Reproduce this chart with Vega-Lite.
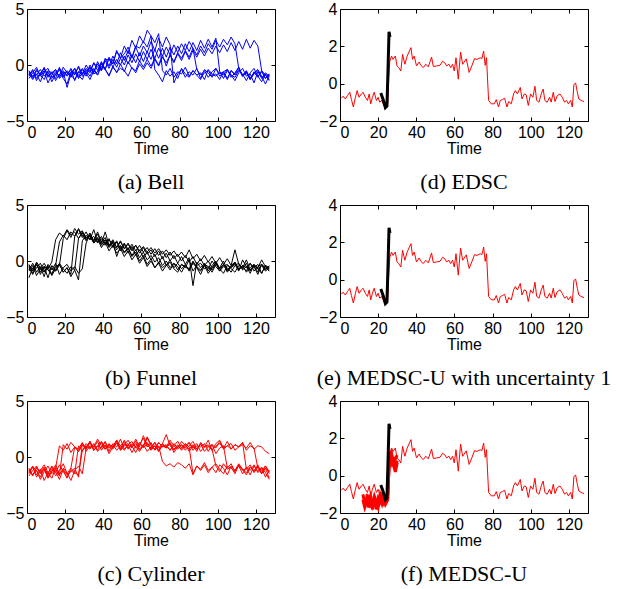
{
"$schema":"https://vega.github.io/schema/vega-lite/v6.json",
"padding":{"left":5,"top":0,"right":0,"bottom":0},
"background":"white",
"config":{
 "view":{"stroke":"black","strokeWidth":1},
 "axis":{"domain":false,"grid":false,"tickColor":"black","tickSize":-4,"labelPadding":7,"labelFont":"Liberation Sans","labelFontSize":16,"labelColor":"black","titleFont":"Liberation Sans","titleFontSize":16,"titleFontWeight":"normal","titleColor":"black","titlePadding":0},
 "title":{"font":"Liberation Serif","fontSize":22,"fontWeight":"normal","color":"black","orient":"bottom","frame":"group","offset":16}
},
"datasets":{
"bell":[
{"t":1,"a":-0.6,"b":-0.9,"c":-0.5,"d":-1.2,"e":-0.8,"f":-1.0,"g":-0.7},
{"t":3,"a":-1.1,"b":-0.4,"c":-1.0,"d":-0.7,"e":-1.3,"f":-0.5,"g":-1.2},
{"t":5,"a":-0.4,"b":-1.2,"c":-0.8,"d":-0.2,"e":-0.5,"f":-1.4,"g":-0.9},
{"t":7,"a":-0.9,"b":-0.7,"c":-1.5,"d":-1.0,"e":-0.9,"f":-0.8,"g":-0.4},
{"t":9,"a":-1.3,"b":-0.3,"c":-0.6,"d":-0.5,"e":-0.2,"f":-0.3,"g":-1.0},
{"t":11,"a":-0.5,"b":-1.0,"c":-0.3,"d":-1.6,"e":-1.1,"f":-0.9,"g":-0.6},
{"t":13,"a":-0.7,"b":-0.6,"c":-1.1,"d":-0.9,"e":-0.7,"f":-1.2,"g":-1.5},
{"t":15,"a":-1.2,"b":-1.4,"c":-0.9,"d":-0.4,"e":-0.4,"f":-0.6,"g":-0.8},
{"t":17,"a":-0.2,"b":-0.8,"c":-0.4,"d":-1.1,"e":-1.2,"f":-1.0,"g":-0.3},
{"t":19,"a":-1.0,"b":-0.5,"c":-1.2,"d":-0.6,"e":-0.8,"f":-0.2,"g":-1.1},
{"t":21,"a":-0.8,"b":-1.0,"c":-1.7,"d":-2.0,"e":-0.6,"f":-0.7,"g":-0.5},
{"t":23,"a":-0.4,"b":-0.3,"c":-0.6,"d":-0.8,"e":-1.0,"f":-1.1,"g":-0.9},
{"t":25,"a":-1.4,"b":-0.9,"c":-0.8,"d":-0.3,"e":-0.3,"f":-0.6,"g":-1.3},
{"t":27,"a":-0.6,"b":-0.1,"c":-0.2,"d":-1.2,"e":-0.9,"f":-1.1,"g":-0.6},
{"t":29,"a":-0.9,"b":-0.8,"c":-1.0,"d":-0.7,"e":-1.3,"f":-0.3,"g":-0.4},
{"t":31,"a":-0.3,"b":0.0,"c":-0.7,"d":-0.5,"e":-0.5,"f":-0.8,"g":-1.0},
{"t":33,"a":-0.7,"b":-0.6,"c":-1.3,"d":-1.0,"e":-0.2,"f":0.0,"g":-0.2},
{"t":35,"a":0.2,"b":0.2,"c":-0.5,"d":-0.3,"e":-0.8,"f":-0.6,"g":-0.7},
{"t":37,"a":-0.2,"b":-0.5,"c":-0.9,"d":-0.9,"e":-0.6,"f":0.1,"g":0.3},
{"t":39,"a":-0.5,"b":0.3,"c":-0.1,"d":0.2,"e":0.1,"f":-0.5,"g":-0.4},
{"t":41,"a":0.5,"b":-0.4,"c":-0.4,"d":-0.4,"e":-0.4,"f":0.4,"g":0.6},
{"t":43,"a":0.5,"b":0.6,"c":-1.0,"d":0.7,"e":-0.9,"f":-0.3,"g":-0.1},
{"t":45,"a":0.1,"b":-0.2,"c":-0.1,"d":0.1,"e":-0.2,"f":0.5,"g":0.8},
{"t":47,"a":1.3,"b":0.5,"c":-0.7,"d":1.2,"e":-0.6,"f":-0.2,"g":0.1},
{"t":49,"a":0.6,"b":0.0,"c":0.1,"d":0.6,"e":-0.3,"f":0.6,"g":1.1},
{"t":51,"a":1.0,"b":0.8,"c":-0.6,"d":1.7,"e":-0.5,"f":0.0,"g":0.4},
{"t":53,"a":1.6,"b":0.1,"c":0.3,"d":1.0,"e":-1.0,"f":0.9,"g":1.3},
{"t":55,"a":0.7,"b":0.9,"c":-0.3,"d":2.2,"e":-0.2,"f":0.2,"g":0.6},
{"t":57,"a":1.7,"b":0.2,"c":-0.5,"d":1.5,"e":-0.7,"f":1.0,"g":1.6},
{"t":59,"a":1.5,"b":1.1,"c":0.4,"d":2.6,"e":0.1,"f":0.3,"g":0.8},
{"t":61,"a":2.1,"b":0.3,"c":-0.2,"d":2.0,"e":-0.4,"f":1.2,"g":1.7},
{"t":63,"a":1.6,"b":1.2,"c":0.5,"d":3.1,"e":0.2,"f":0.5,"g":1.1},
{"t":65,"a":2.6,"b":0.5,"c":-0.1,"d":2.6,"e":-0.3,"f":1.4,"g":2.1},
{"t":67,"a":2.0,"b":1.4,"c":0.6,"d":-0.4,"e":0.5,"f":0.6,"g":1.3},
{"t":69,"a":2.8,"b":0.6,"c":0.0,"d":-0.9,"e":-0.1,"f":1.5,"g":2.4},
{"t":71,"a":-0.5,"b":1.5,"c":0.9,"d":-1.5,"e":0.7,"f":0.8,"g":1.6},
{"t":73,"a":-0.9,"b":0.7,"c":-0.1,"d":-0.5,"e":0.2,"f":1.6,"g":2.5},
{"t":75,"a":-0.3,"b":1.6,"c":0.9,"d":-1.0,"e":0.9,"f":0.9,"g":1.8},
{"t":77,"a":-1.1,"b":0.9,"c":0.2,"d":-0.6,"e":0.3,"f":1.8,"g":-1.6},
{"t":79,"a":-0.6,"b":1.7,"c":1.0,"d":-1.2,"e":1.1,"f":1.1,"g":-0.8},
{"t":81,"a":-0.8,"b":1.0,"c":0.4,"d":-0.3,"e":0.6,"f":1.9,"g":-0.4},
{"t":83,"a":-0.2,"b":1.9,"c":1.2,"d":-0.8,"e":1.3,"f":1.3,"g":-1.1},
{"t":85,"a":-1.0,"b":1.2,"c":0.5,"d":-1.1,"e":0.7,"f":2.1,"g":-0.6},
{"t":87,"a":-0.5,"b":2.0,"c":1.3,"d":-0.5,"e":1.5,"f":1.5,"g":-0.9},
{"t":89,"a":-0.9,"b":1.3,"c":0.7,"d":-0.9,"e":0.9,"f":-0.4,"g":-0.3},
{"t":91,"a":-1.3,"b":2.2,"c":1.4,"d":-0.7,"e":1.7,"f":-0.9,"g":-1.2},
{"t":93,"a":-0.4,"b":1.5,"c":0.8,"d":-1.3,"e":1.1,"f":-0.5,"g":-0.7},
{"t":95,"a":-0.7,"b":2.3,"c":1.5,"d":-0.4,"e":1.9,"f":-1.1,"g":-0.5},
{"t":97,"a":-1.1,"b":1.6,"c":1.0,"d":-0.8,"e":1.4,"f":-0.6,"g":-1.0},
{"t":99,"a":-0.3,"b":2.4,"c":1.7,"d":-1.0,"e":2.2,"f":-0.3,"g":-0.8},
{"t":101,"a":-0.8,"b":-0.6,"c":1.1,"d":-0.6,"e":1.6,"f":-1.0,"g":-1.3},
{"t":103,"a":-0.6,"b":-0.9,"c":1.8,"d":-1.2,"e":2.3,"f":-0.7,"g":-0.6},
{"t":105,"a":-1.2,"b":-0.4,"c":1.2,"d":-0.5,"e":1.8,"f":-1.3,"g":-0.4},
{"t":107,"a":-0.5,"b":-1.1,"c":2.0,"d":-0.9,"e":2.5,"f":-0.5,"g":-0.9},
{"t":109,"a":-0.9,"b":-0.7,"c":1.3,"d":-1.4,"e":1.9,"f":-0.8,"g":-1.1},
{"t":111,"a":-0.4,"b":-0.2,"c":2.1,"d":-0.7,"e":-0.3,"f":-0.2,"g":-0.5},
{"t":113,"a":-1.0,"b":-1.0,"c":1.4,"d":-0.3,"e":-0.9,"f":-1.0,"g":-0.8},
{"t":115,"a":-0.7,"b":-0.6,"c":2.3,"d":-1.0,"e":-0.5,"f":-0.6,"g":-1.4},
{"t":117,"a":-1.3,"b":-1.3,"c":1.5,"d":-0.8,"e":-1.2,"f":-1.2,"g":-0.7},
{"t":119,"a":-0.6,"b":-0.8,"c":2.2,"d":-1.6,"e":-0.7,"f":-0.7,"g":-0.3},
{"t":121,"a":-1.1,"b":-0.5,"c":1.7,"d":-0.6,"e":-1.0,"f":-0.4,"g":-1.0},
{"t":123,"a":-0.5,"b":-1.2,"c":-0.5,"d":-1.1,"e":-1.5,"f":-1.0,"g":-0.6},
{"t":125,"a":-0.9,"b":-0.7,"c":-1.2,"d":-0.9,"e":-0.8,"f":-1.7,"g":-1.2},
{"t":127,"a":-1.4,"b":-1.0,"c":-0.8,"d":-1.3,"e":-1.1,"f":-0.9,"g":-0.8}
],
"funnel":[
{"t":1,"a":-0.3,"b":-0.8,"c":-0.4,"d":-0.6,"e":-0.5,"f":-0.9,"g":-1.5},
{"t":3,"a":-0.9,"b":-0.2,"c":-1.1,"d":-1.2,"e":-0.9,"f":-0.4,"g":-0.6},
{"t":5,"a":-0.2,"b":-1.0,"c":-0.6,"d":-0.3,"e":-0.1,"f":-1.3,"g":-0.3},
{"t":7,"a":-1.2,"b":-0.5,"c":-0.2,"d":-0.8,"e":-0.6,"f":-0.7,"g":-1.0},
{"t":9,"a":-0.5,"b":-1.4,"c":-0.9,"d":-0.5,"e":-1.0,"f":-0.2,"g":-0.5},
{"t":11,"a":-0.7,"b":-0.3,"c":-0.5,"d":-1.5,"e":-0.4,"f":-0.8,"g":-0.8},
{"t":13,"a":-0.1,"b":-0.7,"c":-1.3,"d":-0.4,"e":-0.8,"f":-1.1,"g":-1.2},
{"t":15,"a":1.9,"b":-0.9,"c":-0.7,"d":-0.9,"e":-0.2,"f":-0.5,"g":-0.4},
{"t":17,"a":2.5,"b":-0.4,"c":-0.3,"d":-0.2,"e":-1.2,"f":-0.3,"g":1.7},
{"t":19,"a":2.2,"b":2.0,"c":-1.0,"d":-0.7,"e":-0.6,"f":-1.0,"g":2.3},
{"t":21,"a":2.8,"b":2.7,"c":-0.6,"d":-1.1,"e":-0.3,"f":-0.6,"g":1.9},
{"t":23,"a":2.3,"b":2.1,"c":-1.2,"d":-0.5,"e":-0.9,"f":-1.4,"g":2.6},
{"t":25,"a":2.6,"b":2.9,"c":2.2,"d":-0.8,"e":-0.5,"f":-0.8,"g":2.2},
{"t":27,"a":2.0,"b":2.4,"c":2.8,"d":-1.7,"e":-1.1,"f":2.0,"g":2.9},
{"t":29,"a":2.5,"b":2.7,"c":2.1,"d":1.8,"e":-0.7,"f":2.6,"g":2.3},
{"t":31,"a":1.9,"b":2.0,"c":2.6,"d":2.3,"e":1.6,"f":2.1,"g":1.8},
{"t":33,"a":2.3,"b":2.5,"c":1.9,"d":1.9,"e":2.4,"f":2.2,"g":2.3},
{"t":35,"a":1.7,"b":1.8,"c":2.8,"d":2.2,"e":1.8,"f":1.6,"g":1.6},
{"t":37,"a":2.1,"b":2.4,"c":1.7,"d":1.6,"e":2.6,"f":2.0,"g":2.0},
{"t":39,"a":1.4,"b":1.6,"c":2.2,"d":2.0,"e":1.7,"f":1.5,"g":1.2},
{"t":41,"a":1.9,"b":2.6,"c":1.5,"d":1.4,"e":2.1,"f":1.9,"g":1.7},
{"t":43,"a":1.2,"b":1.4,"c":2.0,"d":1.9,"e":1.3,"f":1.3,"g":0.9},
{"t":45,"a":1.6,"b":1.9,"c":1.2,"d":1.3,"e":1.7,"f":1.8,"g":1.4},
{"t":47,"a":1.0,"b":1.2,"c":1.7,"d":1.8,"e":0.4,"f":1.2,"g":0.7},
{"t":49,"a":1.4,"b":1.8,"c":0.9,"d":1.1,"e":1.3,"f":1.7,"g":1.1},
{"t":51,"a":0.8,"b":1.1,"c":1.5,"d":1.6,"e":0.7,"f":1.1,"g":0.4},
{"t":53,"a":1.2,"b":1.6,"c":0.7,"d":1.0,"e":1.1,"f":1.5,"g":0.9},
{"t":55,"a":0.5,"b":0.9,"c":1.3,"d":1.5,"e":0.4,"f":1.0,"g":0.1},
{"t":57,"a":1.0,"b":1.4,"c":0.5,"d":0.9,"e":0.8,"f":1.4,"g":0.6},
{"t":59,"a":0.3,"b":0.7,"c":1.0,"d":1.4,"e":0.0,"f":0.9,"g":-0.2},
{"t":61,"a":0.8,"b":1.2,"c":0.3,"d":0.8,"e":0.5,"f":1.3,"g":0.3},
{"t":63,"a":0.1,"b":0.6,"c":0.8,"d":1.2,"e":-0.3,"f":0.8,"g":-0.5},
{"t":65,"a":0.5,"b":1.0,"c":0.1,"d":0.6,"e":0.2,"f":1.2,"g":0.0},
{"t":67,"a":-0.1,"b":0.4,"c":0.6,"d":1.1,"e":-0.6,"f":0.7,"g":-0.6},
{"t":69,"a":0.3,"b":0.9,"c":-0.2,"d":0.5,"e":-0.1,"f":1.1,"g":-0.2},
{"t":71,"a":-0.4,"b":0.2,"c":0.4,"d":0.9,"e":-0.6,"f":0.6,"g":-0.9},
{"t":73,"a":0.0,"b":0.7,"c":-0.4,"d":0.3,"e":-0.3,"f":1.0,"g":-0.4},
{"t":75,"a":-0.6,"b":0.0,"c":0.1,"d":0.8,"e":-0.8,"f":0.5,"g":-0.1},
{"t":77,"a":-0.2,"b":0.5,"c":-0.6,"d":0.2,"e":-0.2,"f":0.9,"g":-0.7},
{"t":79,"a":-0.8,"b":-0.2,"c":-0.2,"d":0.6,"e":-0.5,"f":0.4,"g":-1.0},
{"t":81,"a":-0.3,"b":0.4,"c":-0.7,"d":0.0,"e":-1.0,"f":0.8,"g":-0.3},
{"t":83,"a":-0.6,"b":-0.3,"c":-0.3,"d":0.5,"e":-0.4,"f":0.3,"g":-0.5},
{"t":85,"a":0.1,"b":0.3,"c":-0.9,"d":-0.1,"e":-0.7,"f":1.0,"g":-0.8},
{"t":87,"a":-0.9,"b":-2.2,"c":-0.1,"d":0.4,"e":0.0,"f":0.2,"g":-0.2},
{"t":89,"a":-0.4,"b":-0.1,"c":-0.5,"d":-0.3,"e":-0.6,"f":0.6,"g":-0.6},
{"t":91,"a":-0.2,"b":-0.6,"c":-0.8,"d":0.2,"e":-0.9,"f":0.0,"g":-1.2},
{"t":93,"a":-0.7,"b":-0.2,"c":-0.4,"d":-0.4,"e":-0.3,"f":0.5,"g":-0.4},
{"t":95,"a":-0.5,"b":-0.9,"c":-1.1,"d":0.0,"e":-0.5,"f":-0.1,"g":-0.7},
{"t":97,"a":-1.0,"b":-0.4,"c":-0.6,"d":-0.6,"e":-0.8,"f":0.4,"g":0.0},
{"t":99,"a":-0.3,"b":0.0,"c":-0.2,"d":-0.1,"e":-0.2,"f":-0.2,"g":-0.5},
{"t":101,"a":-0.6,"b":-0.7,"c":-0.9,"d":-0.7,"e":-0.7,"f":0.3,"g":-0.9},
{"t":103,"a":0.0,"b":-0.3,"c":-0.5,"d":-0.3,"e":-1.1,"f":-0.3,"g":-0.3},
{"t":105,"a":-0.8,"b":-1.0,"c":-0.3,"d":-0.9,"e":-0.4,"f":0.2,"g":-0.6},
{"t":107,"a":-0.4,"b":-0.5,"c":-0.7,"d":-0.5,"e":-0.6,"f":-0.4,"g":-1.0},
{"t":109,"a":-0.1,"b":-0.1,"c":-1.0,"d":-0.2,"e":-0.3,"f":1.0,"g":-0.4},
{"t":111,"a":-0.7,"b":-0.8,"c":-0.4,"d":-0.8,"e":-0.9,"f":-0.3,"g":-0.2},
{"t":113,"a":-0.5,"b":-0.4,"c":-0.6,"d":-0.4,"e":0.1,"f":-0.7,"g":-0.8},
{"t":115,"a":-0.9,"b":-0.6,"c":0.1,"d":-1.0,"e":-0.5,"f":-0.2,"g":-0.5},
{"t":117,"a":-0.2,"b":-0.2,"c":-0.8,"d":-0.6,"e":-0.8,"f":-0.9,"g":-1.1},
{"t":119,"a":-0.6,"b":-0.9,"c":-0.5,"d":-0.3,"e":-0.4,"f":-0.4,"g":-0.3},
{"t":121,"a":-0.3,"b":-0.5,"c":-1.2,"d":-0.7,"e":-1.0,"f":-0.6,"g":-0.7},
{"t":123,"a":-1.1,"b":-0.3,"c":-0.3,"d":-1.1,"e":-0.3,"f":0.1,"g":-0.4},
{"t":125,"a":-0.4,"b":-0.8,"c":-0.7,"d":-0.4,"e":-0.6,"f":-0.5,"g":-0.9},
{"t":127,"a":-0.7,"b":-0.4,"c":-0.5,"d":-0.6,"e":-0.9,"f":-0.8,"g":-0.6}
],
"cyl":[
{"t":1,"a":-1.5,"b":-1.0,"c":-1.3,"d":-1.1,"e":-1.4,"f":-1.7,"g":-1.2},
{"t":3,"a":-0.9,"b":-1.6,"c":-0.8,"d":-1.7,"e":-0.9,"f":-1.2,"g":-1.6},
{"t":5,"a":-1.8,"b":-1.2,"c":-1.6,"d":-0.9,"e":-1.2,"f":-0.8,"g":-1.0},
{"t":7,"a":-1.2,"b":-2.0,"c":-1.1,"d":-1.4,"e":-1.8,"f":-1.5,"g":-1.3},
{"t":9,"a":-0.7,"b":-1.3,"c":-2.1,"d":-1.0,"e":-1.0,"f":-1.1,"g":-0.9},
{"t":11,"a":-1.4,"b":-0.8,"c":-1.4,"d":-1.8,"e":-1.5,"f":-1.9,"g":-1.7},
{"t":13,"a":-1.9,"b":-1.5,"c":-0.9,"d":-1.3,"e":-0.8,"f":-1.3,"g":-1.1},
{"t":15,"a":-1.0,"b":-1.1,"c":-1.7,"d":-0.7,"e":-1.3,"f":-0.9,"g":-1.4},
{"t":17,"a":1.0,"b":-1.7,"c":-1.2,"d":-1.5,"e":-2.0,"f":-1.6,"g":-0.7},
{"t":19,"a":0.6,"b":1.1,"c":-0.6,"d":-1.2,"e":-1.1,"f":-1.0,"g":-1.3},
{"t":21,"a":1.2,"b":0.7,"c":-1.5,"d":-1.9,"e":-1.6,"f":-1.4,"g":-1.8},
{"t":23,"a":0.4,"b":1.3,"c":-1.0,"d":-1.0,"e":-1.3,"f":-2.1,"g":-1.2},
{"t":25,"a":0.9,"b":0.9,"c":0.9,"d":-1.4,"e":-1.0,"f":-1.2,"g":-1.5},
{"t":27,"a":0.7,"b":0.5,"c":0.5,"d":-1.6,"e":-1.8,"f":-0.8,"g":1.0},
{"t":29,"a":1.3,"b":1.2,"c":1.1,"d":0.6,"e":1.2,"f":-1.5,"g":0.5},
{"t":31,"a":0.5,"b":0.8,"c":0.7,"d":1.0,"e":0.8,"f":0.8,"g":1.2},
{"t":33,"a":1.0,"b":1.4,"c":1.3,"d":0.7,"e":1.4,"f":1.3,"g":0.8},
{"t":35,"a":0.8,"b":0.6,"c":0.6,"d":1.2,"e":0.6,"f":0.9,"g":1.1},
{"t":37,"a":1.4,"b":1.0,"c":1.0,"d":0.5,"e":1.0,"f":1.6,"g":0.6},
{"t":39,"a":0.6,"b":1.3,"c":0.8,"d":0.9,"e":1.3,"f":1.0,"g":1.4},
{"t":41,"a":1.1,"b":0.7,"c":1.4,"d":1.3,"e":0.7,"f":0.7,"g":0.9},
{"t":43,"a":0.3,"b":1.1,"c":0.5,"d":0.8,"e":1.1,"f":1.2,"g":1.0},
{"t":45,"a":0.9,"b":0.9,"c":1.2,"d":1.1,"e":0.9,"f":0.8,"g":0.7},
{"t":47,"a":1.2,"b":1.5,"c":0.9,"d":0.6,"e":1.5,"f":1.5,"g":1.3},
{"t":49,"a":0.7,"b":0.6,"c":1.6,"d":1.0,"e":0.6,"f":1.0,"g":0.8},
{"t":51,"a":1.5,"b":1.0,"c":0.7,"d":1.4,"e":1.2,"f":0.6,"g":1.1},
{"t":53,"a":0.8,"b":1.2,"c":1.1,"d":0.7,"e":0.8,"f":1.1,"g":1.5},
{"t":55,"a":1.0,"b":0.8,"c":0.4,"d":1.2,"e":1.0,"f":1.4,"g":0.9},
{"t":57,"a":0.4,"b":1.6,"c":1.0,"d":0.9,"e":1.4,"f":0.8,"g":1.2},
{"t":59,"a":1.1,"b":0.9,"c":1.3,"d":0.5,"e":0.7,"f":1.2,"g":0.6},
{"t":61,"a":1.7,"b":1.9,"c":0.8,"d":1.1,"e":1.1,"f":0.9,"g":1.0},
{"t":63,"a":0.9,"b":1.1,"c":1.2,"d":1.3,"e":0.5,"f":1.7,"g":1.8},
{"t":65,"a":1.3,"b":0.7,"c":0.6,"d":0.8,"e":0.9,"f":1.0,"g":1.1},
{"t":67,"a":0.6,"b":1.3,"c":1.0,"d":1.0,"e":1.3,"f":0.7,"g":0.7},
{"t":69,"a":1.0,"b":0.5,"c":0.5,"d":0.6,"e":0.8,"f":1.3,"g":1.3},
{"t":71,"a":-0.4,"b":1.0,"c":1.1,"d":1.2,"e":1.2,"f":0.9,"g":0.9},
{"t":73,"a":-0.8,"b":0.8,"c":0.8,"d":0.9,"e":2.0,"f":1.1,"g":1.0},
{"t":75,"a":-0.6,"b":1.2,"c":1.3,"d":1.5,"e":1.0,"f":0.6,"g":0.6},
{"t":77,"a":-0.9,"b":0.4,"c":0.6,"d":1.0,"e":0.7,"f":1.0,"g":1.2},
{"t":79,"a":-0.5,"b":0.9,"c":1.0,"d":0.7,"e":1.1,"f":1.4,"g":0.8},
{"t":81,"a":-0.7,"b":1.1,"c":0.7,"d":1.1,"e":0.6,"f":0.8,"g":1.4},
{"t":83,"a":-1.0,"b":0.6,"c":1.2,"d":0.8,"e":1.0,"f":1.2,"g":1.0},
{"t":85,"a":-0.6,"b":1.0,"c":0.9,"d":1.3,"e":1.3,"f":0.5,"g":0.7},
{"t":87,"a":-1.6,"b":1.4,"c":-1.5,"d":0.6,"e":0.8,"f":1.0,"g":1.1},
{"t":89,"a":-0.8,"b":0.7,"c":-0.8,"d":1.0,"e":1.2,"f":0.7,"g":0.5},
{"t":91,"a":-1.2,"b":1.2,"c":-1.1,"d":0.9,"e":0.5,"f":1.1,"g":1.3},
{"t":93,"a":-0.7,"b":0.5,"c":-0.5,"d":1.2,"e":0.9,"f":0.9,"g":0.9},
{"t":95,"a":-1.4,"b":0.9,"c":-1.2,"d":0.5,"e":1.1,"f":1.5,"g":1.0},
{"t":97,"a":-0.9,"b":1.1,"c":-0.9,"d":1.1,"e":0.7,"f":0.6,"g":0.6},
{"t":99,"a":-0.6,"b":0.3,"c":-1.4,"d":0.8,"e":-0.8,"f":1.0,"g":1.2},
{"t":101,"a":-1.1,"b":0.8,"c":-0.7,"d":1.4,"e":-1.3,"f":1.2,"g":1.5},
{"t":103,"a":-1.5,"b":1.0,"c":-1.0,"d":0.7,"e":-0.6,"f":0.8,"g":0.8},
{"t":105,"a":-0.8,"b":-1.0,"c":-1.6,"d":1.0,"e":-1.1,"f":1.4,"g":1.0},
{"t":107,"a":-1.0,"b":-0.6,"c":-0.8,"d":1.2,"e":-0.9,"f":0.7,"g":0.7},
{"t":109,"a":-1.3,"b":-1.3,"c":-1.2,"d":0.6,"e":-1.5,"f":1.1,"g":1.1},
{"t":111,"a":-0.7,"b":-0.8,"c":-0.6,"d":0.9,"e":-0.7,"f":0.9,"g":0.9},
{"t":113,"a":-1.1,"b":-1.5,"c":-1.1,"d":1.1,"e":-1.2,"f":1.3,"g":1.3},
{"t":115,"a":-1.6,"b":-0.9,"c":-1.4,"d":0.8,"e":-1.0,"f":-1.1,"g":0.6},
{"t":117,"a":-0.9,"b":-1.2,"c":-0.9,"d":1.3,"e":-1.6,"f":-0.7,"g":1.0},
{"t":119,"a":-1.2,"b":-0.7,"c":-1.3,"d":0.7,"e":-0.8,"f":-1.4,"g":0.8},
{"t":121,"a":-0.8,"b":-1.4,"c":-0.7,"d":1.0,"e":-1.3,"f":-0.9,"g":-1.0},
{"t":123,"a":-1.4,"b":-1.0,"c":-1.5,"d":0.9,"e":-0.9,"f":-1.2,"g":-1.5},
{"t":125,"a":-1.0,"b":-1.8,"c":-1.0,"d":0.5,"e":-1.4,"f":-0.8,"g":-0.8},
{"t":127,"a":-1.3,"b":-1.2,"c":-1.9,"d":0.3,"e":-2.0,"f":-1.5,"g":-1.3}
],
"red":[
{"t":0.7,"v":-0.78},{"t":1.6,"v":-0.67},{"t":2.8,"v":-0.82},{"t":3.9,"v":-0.64},{"t":5.1,"v":-0.46},{"t":6,"v":-0.85},{"t":7,"v":-1.25},{"t":8.1,"v":-0.73},{"t":9,"v":-0.37},{"t":10,"v":-0.73},{"t":11.2,"v":-0.55},{"t":12.1,"v":-0.46},{"t":13.3,"v":-0.73},{"t":14.4,"v":-0.9},{"t":15.3,"v":-0.55},{"t":16.1,"v":-1.08},{"t":17,"v":-0.73},{"t":17.9,"v":-0.46},{"t":19.1,"v":-0.9},{"t":20,"v":-0.73},{"t":20.8,"v":-0.99},{"t":22,"v":-0.9},{"t":23,"v":-1.2},{"t":24,"v":-1.3},{"t":25,"v":-1.1},{"t":25.6,"v":0.4},{"t":26.1,"v":1.2},{"t":27,"v":1.48},{"t":27.8,"v":1.3},{"t":29,"v":1.48},{"t":29.9,"v":0.95},{"t":30.8,"v":0.86},{"t":31.9,"v":0.68},{"t":32.8,"v":1.57},{"t":34,"v":1.04},{"t":35.2,"v":1.48},{"t":37.2,"v":1.93},{"t":38,"v":1.3},{"t":38.9,"v":1.48},{"t":40.1,"v":0.95},{"t":41.5,"v":1.16},{"t":42.4,"v":0.98},{"t":43.6,"v":0.86},{"t":45,"v":1.04},{"t":46.3,"v":0.9},{"t":48,"v":1.43},{"t":48.9,"v":0.92},{"t":50.6,"v":0.95},{"t":52.4,"v":0.98},{"t":53.8,"v":1.2},{"t":55,"v":1.11},{"t":55.9,"v":0.95},{"t":57.1,"v":1.04},{"t":58,"v":0.86},{"t":59,"v":1.04},{"t":59.9,"v":0.68},{"t":60.8,"v":1.39},{"t":62,"v":0.24},{"t":63.2,"v":1.69},{"t":64.3,"v":1.04},{"t":66.2,"v":1.33},{"t":67.7,"v":0.6},{"t":69.1,"v":0.95},{"t":70.5,"v":1.34},{"t":71.8,"v":1.3},{"t":73.5,"v":1.39},{"t":74.4,"v":1.34},{"t":75.3,"v":1.75},{"t":76.1,"v":0.98},{"t":76.8,"v":1.39},{"t":77.9,"v":-0.9},{"t":79.3,"v":-1.08},{"t":80.9,"v":-1.08},{"t":81.9,"v":-0.85},{"t":83.1,"v":-1.25},{"t":84,"v":-0.9},{"t":85.2,"v":-0.85},{"t":86.3,"v":-0.78},{"t":87.5,"v":-1.25},{"t":88.4,"v":-0.96},{"t":89.8,"v":-1.08},{"t":91,"v":-0.55},{"t":91.9,"v":-0.37},{"t":93,"v":-0.55},{"t":94.5,"v":-0.2},{"t":95.4,"v":-0.82},{"t":96.6,"v":-0.55},{"t":97.6,"v":-0.6},{"t":98.7,"v":-1.17},{"t":99.9,"v":-0.55},{"t":101.1,"v":-0.73},{"t":102.2,"v":-0.14},{"t":103.1,"v":-0.9},{"t":104.3,"v":-0.99},{"t":105.5,"v":-0.55},{"t":106.5,"v":-0.29},{"t":107.4,"v":-0.9},{"t":108.6,"v":-0.99},{"t":109.9,"v":-0.73},{"t":110.7,"v":-0.99},{"t":111.8,"v":-0.46},{"t":112.7,"v":-0.96},{"t":113.9,"v":-0.64},{"t":115.3,"v":-0.55},{"t":116.5,"v":-0.73},{"t":117.7,"v":-0.99},{"t":118.8,"v":-0.9},{"t":119.7,"v":-1.08},{"t":120.9,"v":-0.9},{"t":121.8,"v":-1.25},{"t":122.6,"v":-0.06},{"t":123.5,"v":0.04},{"t":124.4,"v":-0.46},{"t":125.2,"v":-0.82},{"t":126.4,"v":-0.9},{"t":127.9,"v":-0.96}
],
"black":[
{"t":21.4,"v":-0.5},{"t":22.6,"v":-0.85},{"t":23.8,"v":-1.28},{"t":24.6,"v":-1.2},{"t":25.1,"v":0.5},{"t":25.7,"v":2.78},{"t":26.2,"v":2.5}
],
"thick":[
{"s":1,"t":12,"v":-1.0},{"s":1,"t":13,"v":-1.5},{"s":1,"t":14,"v":-1.2},{"s":1,"t":15,"v":-1.7},{"s":1,"t":16,"v":-1.3},{"s":1,"t":17,"v":-1.8},{"s":1,"t":18,"v":-1.4},{"s":1,"t":19,"v":-1.6},{"s":1,"t":20,"v":-1.2},{"s":1,"t":21,"v":-1.4},{"s":1,"t":22,"v":-1.1},{"s":1,"t":23,"v":-1.3},{"s":1,"t":24,"v":-1.4},{"s":1,"t":25,"v":-1.2},{"s":1,"t":25.6,"v":0.5},{"s":1,"t":26.2,"v":1.1},{"s":1,"t":27,"v":0.7},{"s":1,"t":28,"v":1.0},{"s":1,"t":29,"v":0.4},{"s":1,"t":30,"v":0.8},
{"s":2,"t":12,"v":-1.3},{"s":2,"t":13,"v":-1.7},{"s":2,"t":14,"v":-1.4},{"s":2,"t":15,"v":-1.2},{"s":2,"t":16,"v":-1.6},{"s":2,"t":17,"v":-1.5},{"s":2,"t":18,"v":-1.1},{"s":2,"t":19,"v":-1.4},{"s":2,"t":20,"v":-1.7},{"s":2,"t":21,"v":-1.2},{"s":2,"t":22,"v":-1.5},{"s":2,"t":23,"v":-1.1},{"s":2,"t":24,"v":-1.5},{"s":2,"t":25,"v":-1.3},{"s":2,"t":25.6,"v":0.3},{"s":2,"t":26.2,"v":1.3},{"s":2,"t":27,"v":0.9},{"s":2,"t":28,"v":0.5},{"s":2,"t":29,"v":0.9},{"s":2,"t":30,"v":1.1},
{"s":3,"t":14,"v":-1.0},{"s":3,"t":15,"v":-1.4},{"s":3,"t":16,"v":-1.1},{"s":3,"t":17,"v":-1.6},{"s":3,"t":18,"v":-1.3},{"s":3,"t":19,"v":-1.8},{"s":3,"t":20,"v":-1.4},{"s":3,"t":21,"v":-1.0},{"s":3,"t":22,"v":-1.3},{"s":3,"t":23,"v":-1.5},{"s":3,"t":24,"v":-1.2},{"s":3,"t":25,"v":-1.0},{"s":3,"t":25.6,"v":0.2},{"s":3,"t":26.2,"v":1.0},{"s":3,"t":27,"v":1.2},{"s":3,"t":28,"v":0.6},{"s":3,"t":29,"v":0.2},{"s":3,"t":30,"v":0.7}
]
},
"columns":2,
"spacing":{"row":2,"column":40},
"concat":[
{"width":248,"height":112,"title":{"text":"(a) Bell"},"data":{"name":"bell"},
 "transform":[{"fold":["a","b","c","d","e","f","g"],"as":["s","v"]}],
 "resolve":{"axis":{"x":"independent","y":"independent"}},
 "layer":[
  {"mark":{"type":"line","strokeWidth":1,"color":"#0000ff"},
   "encoding":{"x":{"field":"t","type":"quantitative","scale":{"domain":[0,130]},"axis":{"values":[0,20,40,60,80,100,120],"title":"Time"}},
    "y":{"field":"v","type":"quantitative","scale":{"domain":[-5,5]},"axis":{"values":[-5,0,5],"title":null}},
    "detail":{"field":"s"}}},
  {"mark":{"type":"line","strokeOpacity":0},
   "encoding":{"x":{"field":"t","type":"quantitative","scale":{"domain":[0,130]},"axis":{"orient":"top","values":[0,20,40,60,80,100,120],"labels":false,"title":null}},
    "y":{"field":"v","type":"quantitative","scale":{"domain":[-5,5]},"axis":{"orient":"right","values":[-5,0,5],"labels":false,"title":null}},
    "detail":{"field":"s"}}}
 ]},
{"width":248,"height":112,"title":{"text":"(d) EDSC"},
 "resolve":{"axis":{"x":"independent","y":"independent"}},
 "layer":[
  {"data":{"name":"red"},"mark":{"type":"line","strokeWidth":1,"color":"#ff0000"},
   "encoding":{"x":{"field":"t","type":"quantitative","scale":{"domain":[0,130]},"axis":{"values":[0,20,40,60,80,100,120],"title":"Time"}},
    "y":{"field":"v","type":"quantitative","scale":{"domain":[-2,4]},"axis":{"values":[-2,0,2,4],"title":null}}}},
  {"data":{"name":"black"},"mark":{"type":"line","strokeWidth":3,"color":"black"},
   "encoding":{"x":{"field":"t","type":"quantitative","scale":{"domain":[0,130]},"axis":{"orient":"top","values":[0,20,40,60,80,100,120],"labels":false,"title":null}},
    "y":{"field":"v","type":"quantitative","scale":{"domain":[-2,4]},"axis":{"orient":"right","values":[-2,0,2,4],"labels":false,"title":null}}}}
 ]},
{"width":248,"height":112,"title":{"text":"(b) Funnel"},"data":{"name":"funnel"},
 "transform":[{"fold":["a","b","c","d","e","f","g"],"as":["s","v"]}],
 "resolve":{"axis":{"x":"independent","y":"independent"}},
 "layer":[
  {"mark":{"type":"line","strokeWidth":1,"color":"black"},
   "encoding":{"x":{"field":"t","type":"quantitative","scale":{"domain":[0,130]},"axis":{"values":[0,20,40,60,80,100,120],"title":"Time"}},
    "y":{"field":"v","type":"quantitative","scale":{"domain":[-5,5]},"axis":{"values":[-5,0,5],"title":null}},
    "detail":{"field":"s"}}},
  {"mark":{"type":"line","strokeOpacity":0},
   "encoding":{"x":{"field":"t","type":"quantitative","scale":{"domain":[0,130]},"axis":{"orient":"top","values":[0,20,40,60,80,100,120],"labels":false,"title":null}},
    "y":{"field":"v","type":"quantitative","scale":{"domain":[-5,5]},"axis":{"orient":"right","values":[-5,0,5],"labels":false,"title":null}},
    "detail":{"field":"s"}}}
 ]},
{"width":248,"height":112,"title":{"text":"(e) MEDSC-U with uncertainty 1"},
 "resolve":{"axis":{"x":"independent","y":"independent"}},
 "layer":[
  {"data":{"name":"red"},"mark":{"type":"line","strokeWidth":1,"color":"#ff0000"},
   "encoding":{"x":{"field":"t","type":"quantitative","scale":{"domain":[0,130]},"axis":{"values":[0,20,40,60,80,100,120],"title":"Time"}},
    "y":{"field":"v","type":"quantitative","scale":{"domain":[-2,4]},"axis":{"values":[-2,0,2,4],"title":null}}}},
  {"data":{"name":"black"},"mark":{"type":"line","strokeWidth":3,"color":"black"},
   "encoding":{"x":{"field":"t","type":"quantitative","scale":{"domain":[0,130]},"axis":{"orient":"top","values":[0,20,40,60,80,100,120],"labels":false,"title":null}},
    "y":{"field":"v","type":"quantitative","scale":{"domain":[-2,4]},"axis":{"orient":"right","values":[-2,0,2,4],"labels":false,"title":null}}}}
 ]},
{"width":248,"height":112,"title":{"text":"(c) Cylinder"},"data":{"name":"cyl"},
 "transform":[{"fold":["a","b","c","d","e","f","g"],"as":["s","v"]}],
 "resolve":{"axis":{"x":"independent","y":"independent"}},
 "layer":[
  {"mark":{"type":"line","strokeWidth":1,"color":"#ff0000"},
   "encoding":{"x":{"field":"t","type":"quantitative","scale":{"domain":[0,130]},"axis":{"values":[0,20,40,60,80,100,120],"title":"Time"}},
    "y":{"field":"v","type":"quantitative","scale":{"domain":[-5,5]},"axis":{"values":[-5,0,5],"title":null}},
    "detail":{"field":"s"}}},
  {"mark":{"type":"line","strokeOpacity":0},
   "encoding":{"x":{"field":"t","type":"quantitative","scale":{"domain":[0,130]},"axis":{"orient":"top","values":[0,20,40,60,80,100,120],"labels":false,"title":null}},
    "y":{"field":"v","type":"quantitative","scale":{"domain":[-5,5]},"axis":{"orient":"right","values":[-5,0,5],"labels":false,"title":null}},
    "detail":{"field":"s"}}}
 ]},
{"width":248,"height":112,"title":{"text":"(f) MEDSC-U"},
 "resolve":{"axis":{"x":"independent","y":"independent"}},
 "layer":[
  {"data":{"name":"red"},"mark":{"type":"line","strokeWidth":1,"color":"#ff0000"},
   "encoding":{"x":{"field":"t","type":"quantitative","scale":{"domain":[0,130]},"axis":{"values":[0,20,40,60,80,100,120],"title":"Time"}},
    "y":{"field":"v","type":"quantitative","scale":{"domain":[-2,4]},"axis":{"values":[-2,0,2,4],"title":null}}}},
  {"data":{"name":"thick"},"mark":{"type":"line","strokeWidth":3,"color":"#ff0000"},
   "encoding":{"x":{"field":"t","type":"quantitative","scale":{"domain":[0,130]},"axis":null},
    "y":{"field":"v","type":"quantitative","scale":{"domain":[-2,4]},"axis":null},
    "detail":{"field":"s"}}},
  {"data":{"name":"black"},"mark":{"type":"line","strokeWidth":3,"color":"black"},
   "encoding":{"x":{"field":"t","type":"quantitative","scale":{"domain":[0,130]},"axis":{"orient":"top","values":[0,20,40,60,80,100,120],"labels":false,"title":null}},
    "y":{"field":"v","type":"quantitative","scale":{"domain":[-2,4]},"axis":{"orient":"right","values":[-2,0,2,4],"labels":false,"title":null}}}}
 ]}
]
}
